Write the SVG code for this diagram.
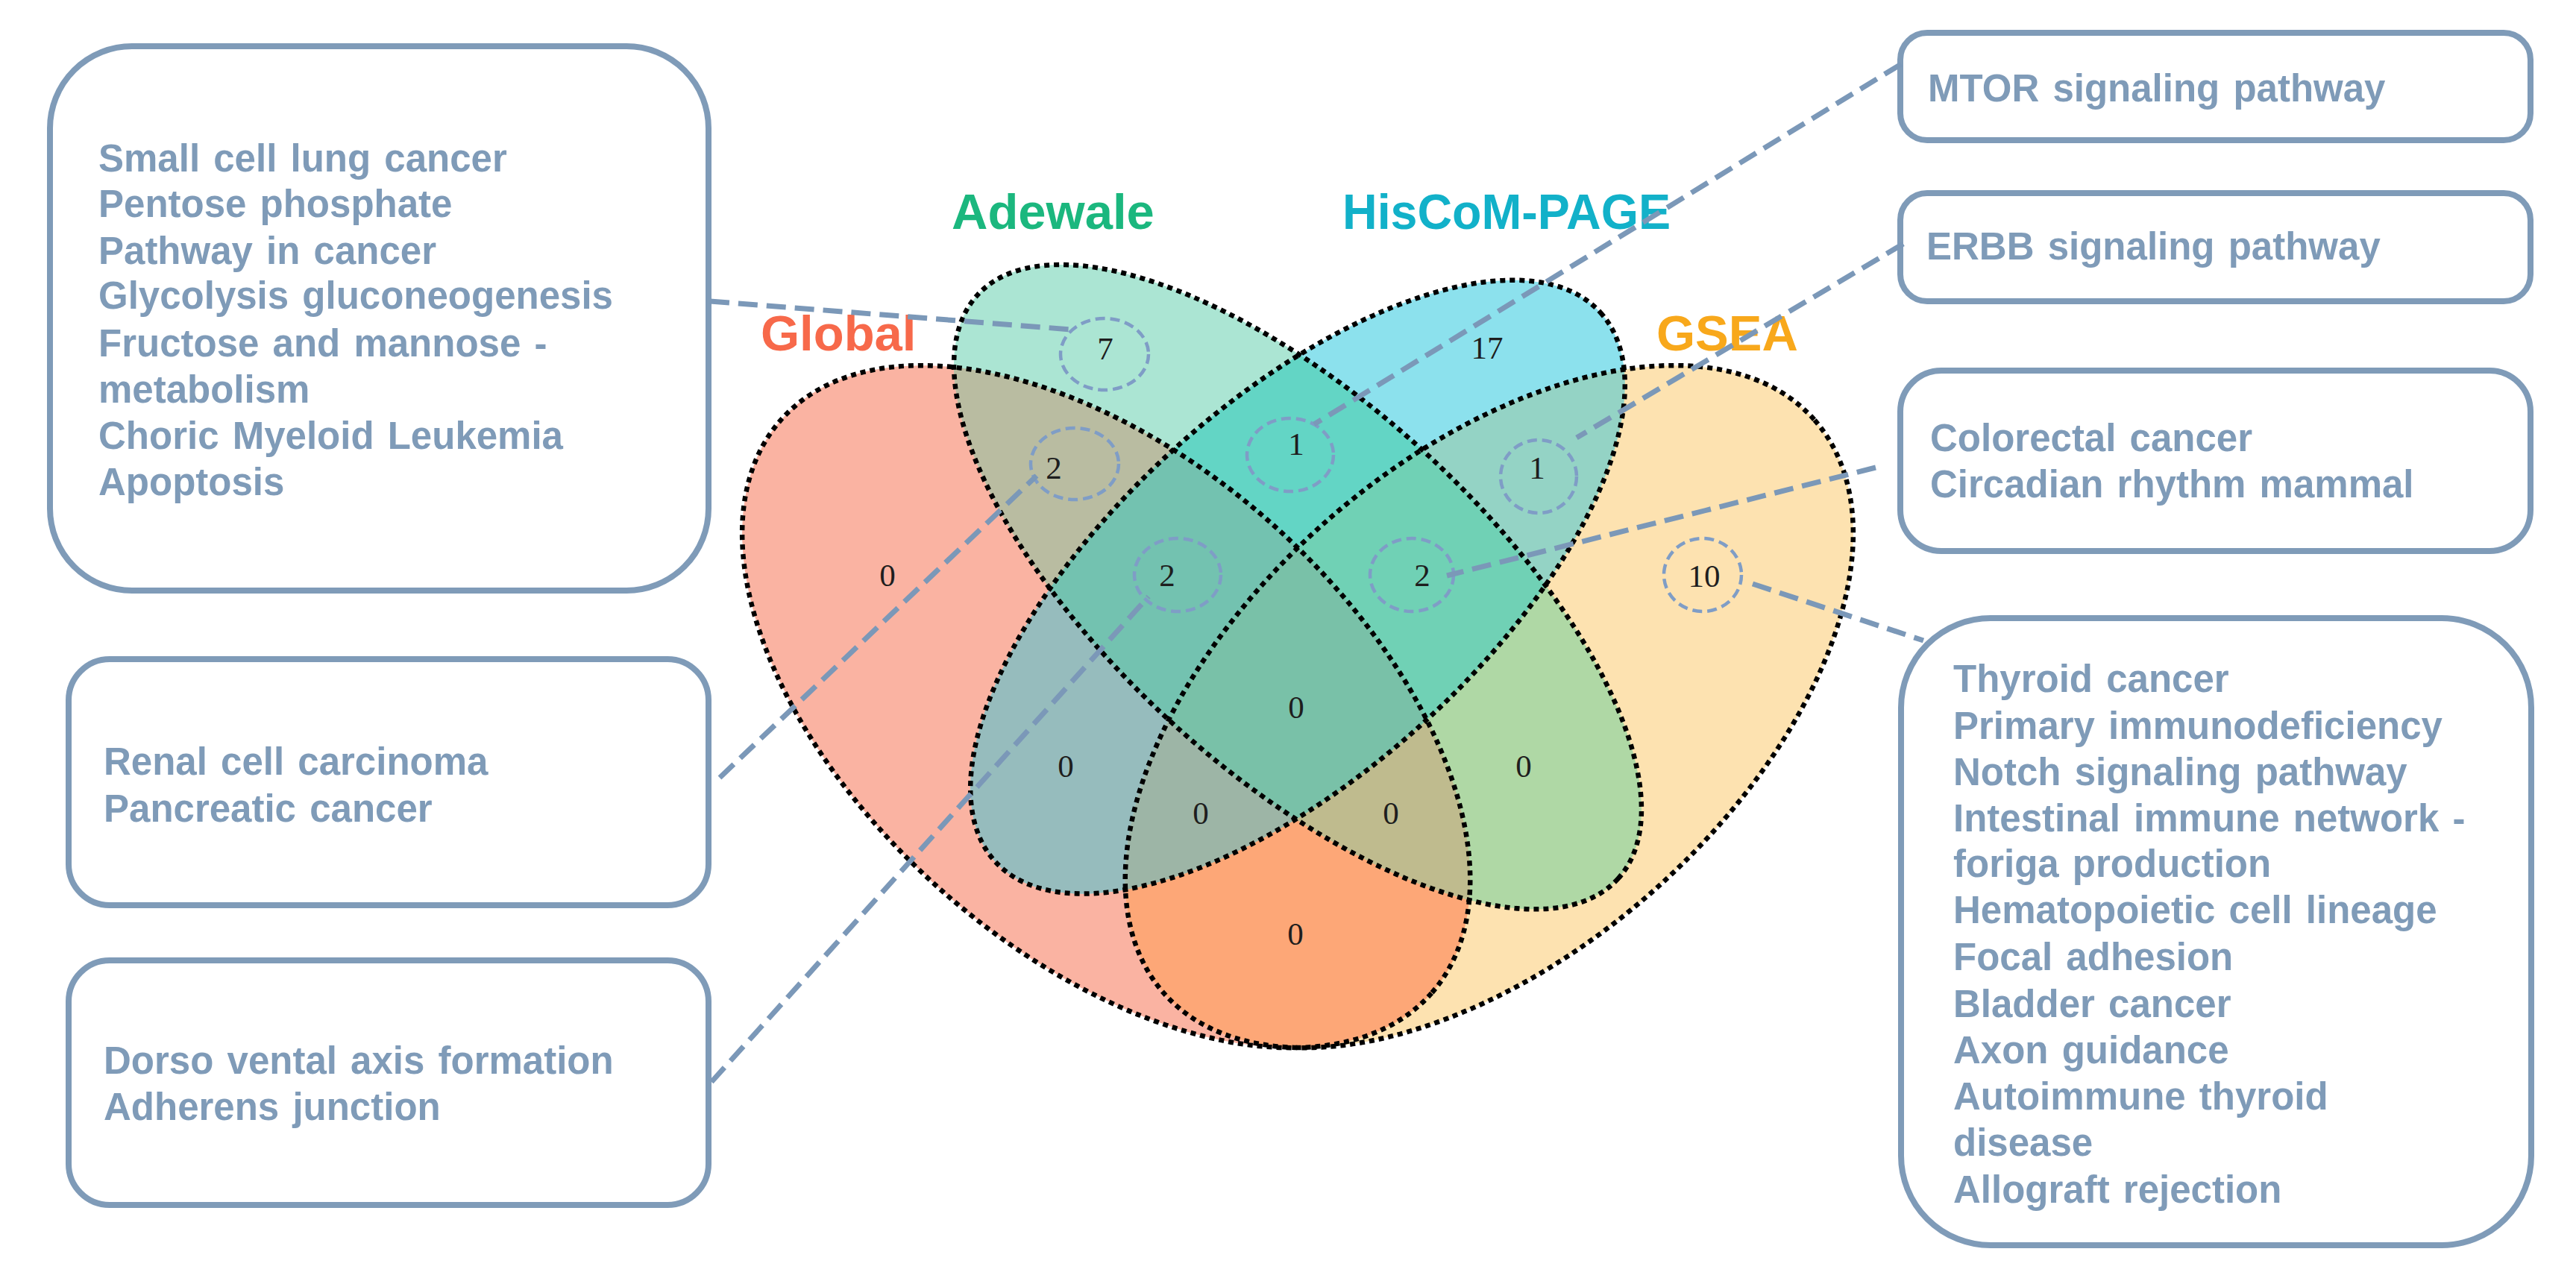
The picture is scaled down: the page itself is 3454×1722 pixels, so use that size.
<svg xmlns="http://www.w3.org/2000/svg" xmlns:xlink="http://www.w3.org/1999/xlink" width="3454" height="1722" viewBox="0 0 3454 1722">
<style>
.box{fill:#ffffff;stroke:#7f9bb8;stroke-width:8}
.btxt{font-family:"Liberation Sans",Arial,sans-serif;font-weight:bold;font-size:51px;fill:#7f9bb8;word-spacing:4px}
.lbl{font-family:"Liberation Sans",Arial,sans-serif;font-weight:bold;font-size:67px}
.num{font-family:"Liberation Serif","Times New Roman",serif;font-size:43px;fill:#1e1e1e;text-anchor:middle}
.outl{fill:none;stroke:#000000;stroke-width:6.5;stroke-dasharray:7 6}
.ring{fill:none;stroke:#7f9dc6;stroke-width:4.5;stroke-dasharray:13 7}
.conn{fill:none;stroke:#7b98b8;stroke-width:7;stroke-dasharray:26 12}
</style>
<defs>
<ellipse id="eG" cx="1483.2" cy="947.65" rx="581.4" ry="330.9" transform="rotate(41.37 1483.2 947.65)"/>
<ellipse id="eA" cx="1740" cy="787.15" rx="581.05" ry="248.27" transform="rotate(42.33 1740 787.15)"/>
<ellipse id="eH" cx="1740" cy="787.15" rx="547.9" ry="248.25" transform="rotate(-42.2 1740 787.15)"/>
<ellipse id="eS" cx="1996.8" cy="947.65" rx="581.4" ry="330.9" transform="rotate(-41.37 1996.8 947.65)"/>
<clipPath id="cG"><use xlink:href="#eG"/></clipPath>
<clipPath id="cA"><use xlink:href="#eA"/></clipPath>
<clipPath id="cH"><use xlink:href="#eH"/></clipPath>
<clipPath id="cS"><use xlink:href="#eS"/></clipPath>
</defs>
<rect width="3454" height="1722" fill="#ffffff"/>

<g id="venn">
<g id="venn-fills">
<use xlink:href="#eG" fill="#fab3a2"/>
<use xlink:href="#eA" fill="#abe5d3"/>
<use xlink:href="#eH" fill="#8ce1ed"/>
<use xlink:href="#eS" fill="#fde2b0"/>
<use xlink:href="#eA" fill="#b9bca1" clip-path="url(#cG)"/>
<use xlink:href="#eH" fill="#96bcbd" clip-path="url(#cG)"/>
<use xlink:href="#eS" fill="#fda777" clip-path="url(#cG)"/>
<use xlink:href="#eH" fill="#63d5c5" clip-path="url(#cA)"/>
<use xlink:href="#eS" fill="#afd8a5" clip-path="url(#cA)"/>
<use xlink:href="#eS" fill="#94d3c5" clip-path="url(#cH)"/>
<g clip-path="url(#cG)"><use xlink:href="#eH" fill="#73c2b0" clip-path="url(#cA)"/></g>
<g clip-path="url(#cG)"><use xlink:href="#eS" fill="#bfbb8e" clip-path="url(#cA)"/></g>
<g clip-path="url(#cG)"><use xlink:href="#eS" fill="#9db5a6" clip-path="url(#cH)"/></g>
<g clip-path="url(#cA)"><use xlink:href="#eS" fill="#70d1b5" clip-path="url(#cH)"/></g>
<g clip-path="url(#cG)"><g clip-path="url(#cA)"><use xlink:href="#eS" fill="#79c1a8" clip-path="url(#cH)"/></g></g>
</g>
<g id="venn-outlines">
<use xlink:href="#eG" class="outl"/>
<use xlink:href="#eA" class="outl"/>
<use xlink:href="#eH" class="outl"/>
<use xlink:href="#eS" class="outl"/>
</g>
<g id="set-labels">
<text id="label-global" class="lbl" x="1020" y="470" fill="#f7694a">Global</text>
<text id="label-adewale" class="lbl" x="1276" y="307" fill="#1bb77e">Adewale</text>
<text id="label-hiscom" class="lbl" x="1800" y="307" fill="#12b1c9" textLength="440" lengthAdjust="spacingAndGlyphs">HisCoM-PAGE</text>
<text id="label-gsea" class="lbl" x="2221" y="470" fill="#f8a81b">GSEA</text>
</g>
<g id="rings">
<ellipse class="ring" cx="1481" cy="475" rx="59" ry="48"/>
<ellipse class="ring" cx="1441" cy="622" rx="59" ry="48"/>
<ellipse class="ring" cx="1730" cy="610" rx="58" ry="49"/>
<ellipse class="ring" cx="2063" cy="639" rx="51" ry="49"/>
<ellipse class="ring" cx="1579" cy="771" rx="58" ry="49"/>
<ellipse class="ring" cx="1893" cy="771" rx="56" ry="49"/>
<ellipse class="ring" cx="2283" cy="771" rx="52" ry="49"/>
</g>
<g id="counts">
<text class="num" x="1482" y="482">7</text>
<text class="num" x="1994" y="481">17</text>
<text class="num" x="1413" y="642">2</text>
<text class="num" x="1738" y="610">1</text>
<text class="num" x="2061" y="642">1</text>
<text class="num" x="1190" y="786">0</text>
<text class="num" x="1565" y="786">2</text>
<text class="num" x="1907" y="786">2</text>
<text class="num" x="2285" y="787">10</text>
<text class="num" x="1738" y="963">0</text>
<text class="num" x="1429" y="1042">0</text>
<text class="num" x="2043" y="1042">0</text>
<text class="num" x="1610" y="1105">0</text>
<text class="num" x="1865" y="1105">0</text>
<text class="num" x="1737" y="1267">0</text>
</g>
</g>

<g id="box-adewale">
<rect class="box" x="67" y="62" width="883" height="730" rx="110"/>
<text class="btxt" x="132" y="230">Small cell lung cancer</text>
<text class="btxt" x="132" y="291">Pentose phosphate</text>
<text class="btxt" x="132" y="354">Pathway in cancer</text>
<text class="btxt" x="132" y="414">Glycolysis gluconeogenesis</text>
<text class="btxt" x="132" y="478">Fructose and mannose -</text>
<text class="btxt" x="132" y="540">metabolism</text>
<text class="btxt" x="132" y="602">Choric Myeloid Leukemia</text>
<text class="btxt" x="132" y="664">Apoptosis</text>
</g>
<g id="box-global-adewale">
<rect class="box" x="92" y="884" width="858" height="330" rx="55"/>
<text class="btxt" x="139" y="1039">Renal cell carcinoma</text>
<text class="btxt" x="139" y="1102">Pancreatic cancer</text>
</g>
<g id="box-global-adewale-hiscom">
<rect class="box" x="92" y="1288" width="858" height="328" rx="55"/>
<text class="btxt" x="139" y="1440">Dorso vental axis formation</text>
<text class="btxt" x="139" y="1502">Adherens junction</text>
</g>
<g id="box-mtor">
<rect class="box" x="2548" y="44" width="845" height="144" rx="36"/>
<text class="btxt" x="2585" y="136">MTOR signaling pathway</text>
</g>
<g id="box-erbb">
<rect class="box" x="2548" y="259" width="845" height="145" rx="36"/>
<text class="btxt" x="2583" y="348">ERBB signaling pathway</text>
</g>
<g id="box-colorectal">
<rect class="box" x="2548" y="497" width="845" height="242" rx="55"/>
<text class="btxt" x="2588" y="605">Colorectal cancer</text>
<text class="btxt" x="2588" y="667">Circadian rhythm mammal</text>
</g>
<g id="box-gsea">
<rect class="box" x="2549" y="829" width="845" height="841" rx="120"/>
<text class="btxt" x="2619" y="928">Thyroid cancer</text>
<text class="btxt" x="2619" y="991">Primary immunodeficiency</text>
<text class="btxt" x="2619" y="1053">Notch signaling pathway</text>
<text class="btxt" x="2619" y="1115">Intestinal immune network -</text>
<text class="btxt" x="2619" y="1176">foriga production</text>
<text class="btxt" x="2619" y="1238">Hematopoietic cell lineage</text>
<text class="btxt" x="2619" y="1301">Focal adhesion</text>
<text class="btxt" x="2619" y="1364">Bladder cancer</text>
<text class="btxt" x="2619" y="1426">Axon guidance</text>
<text class="btxt" x="2619" y="1488">Autoimmune thyroid</text>
<text class="btxt" x="2619" y="1550">disease</text>
<text class="btxt" x="2619" y="1613">Allograft rejection</text>
</g>

<g id="connectors">
<path class="conn" d="M952,404 L1437,442"/>
<path class="conn" d="M2549,86 L1762,569"/>
<path class="conn" d="M2552,327 L2114,587"/>
<path class="conn" d="M2515,627 L1940,772"/>
<path class="conn" d="M2350,783 L2579,859"/>
<path class="conn" d="M965,1043 L1390,638"/>
<path class="conn" d="M954,1451 L1540,800"/>
</g>
</svg>
